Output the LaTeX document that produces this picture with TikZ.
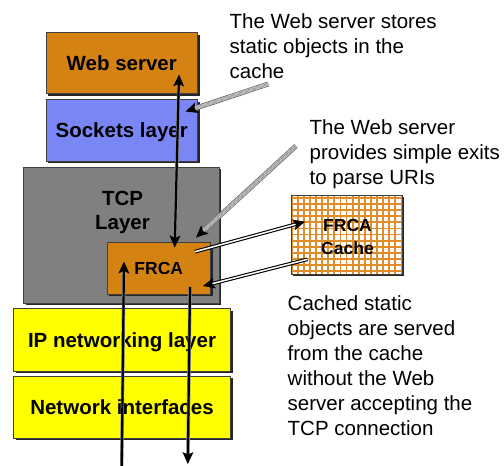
\documentclass[tikz,border=0pt]{standalone}
\usepackage{fontspec}
\setmainfont{Liberation Sans}
\usetikzlibrary{arrows.meta,shadows,calc}
\definecolor{wsorange}{RGB}{212,131,18}
\definecolor{sockblue}{RGB}{122,134,246}
\definecolor{tcpgray}{RGB}{128,128,128}
\definecolor{ipyellow}{RGB}{255,255,0}
\definecolor{gridorange}{RGB}{224,140,40}
% filled arrow head: #1 = tail side point, #2 = tip point
\newcommand\mytiphead[2]{\fill[black] (#2) -- ($(#2)!12pt!(#1)!5.5pt!90:(#2)$) -- ($(#2)!9.5pt!(#1)$) -- ($(#2)!12pt!(#1)!5.5pt!-90:(#2)$) -- cycle;}
\begin{document}
\begin{tikzpicture}[x=1pt,y=-1pt,
  layer/.style={draw=black!75, line width=0.9pt, inner sep=0pt, text depth=0pt,
    font=\bfseries\fontsize{20.5}{24}\selectfont,
    drop shadow={shadow xshift=2pt,shadow yshift=-2pt,fill=black!85,opacity=1}},
  note/.style={anchor=north west, inner sep=0pt, align=left, font=\fontsize{20.5}{25}\selectfont},
  flow/.style={draw=black!45, line width=3.4pt, postaction={draw=black, line width=2.2pt}},
  dbl/.style={draw=black, line width=1.1pt, double=white, double distance=1.5pt},
  hatch/.style={draw=black!55, line width=5pt,
    postaction={draw=white, line width=3.2pt},
    postaction={draw=black!45, line width=3.2pt, dash pattern=on 0.6pt off 0.6pt}}
]
\useasboundingbox (0,0) rectangle (504,466);

% layers
\node[layer, fill=wsorange, minimum width=151.5pt, minimum height=61pt] (ws) at (121.75,63) {Web server};
\node[layer, fill=sockblue, minimum width=151.5pt, minimum height=61.5pt] (sock) at (121.75,130.25) {Sockets layer};
\node[layer, fill=tcpgray, minimum width=195.5pt, minimum height=136pt] (tcp) at (121.25,235) {};
\node[anchor=north, inner sep=0pt, align=center, font=\bfseries\fontsize{20.5}{24}\selectfont] (tcpl) at (122.5,191.3) {TCP\\Layer};
\node[layer, fill=wsorange, minimum width=103.5pt, minimum height=51.5pt, font=\bfseries\fontsize{17.5}{23}\selectfont] (frca) at (158.75,268.25) {FRCA};
\node[layer, fill=ipyellow, minimum width=217pt, minimum height=62.5pt] (ip) at (122,339.75) {IP networking layer};
\node[layer, fill=ipyellow, minimum width=217pt, minimum height=62pt] (ni) at (122,407) {Network interfaces};

% cache
\node[layer, fill=white, minimum width=111pt, minimum height=79pt,
  path picture={\draw[gridorange, line width=1.8pt] (path picture bounding box.south west) grid[step=6.1pt] (path picture bounding box.north east);}] (cache) at (346.5,234.5) {};
\node[inner sep=0pt, align=center, font=\bfseries\fontsize{17.5}{23.3}\selectfont] (cachel) at (347.5,237.1) {FRCA\\Cache};

% notes
\node[note] (n1) at (229.5,13.6) {The Web server stores\\static objects in the\\cache};
\node[note] (n2) at (309.5,119.6) {The Web server\\provides simple exits\\to parse URIs};
\node[note] (n3) at (287.5,295.3) {Cached static\\objects are served\\from the cache\\without the Web\\server accepting the\\TCP connection};

% coordinates
\coordinate (wsIn) at (179,74.5);
\coordinate (frTop) at (174.7,247.5);
\coordinate (inBot) at (121.7,466);
\coordinate (frIn) at (124,261.5);
\coordinate (frOut) at (190,287);
\coordinate (outBot) at (187.8,464);
\coordinate (frToC) at (195,251.7);
\coordinate (cIn) at (305,221.7);
\coordinate (cOut) at (307.5,259.3);
\coordinate (frBack) at (203,286);
\coordinate (t1) at (268.3,84);
\coordinate (h1) at (185.5,111.5);
\coordinate (t2) at (296,146);
\coordinate (h2) at (196,237.5);

% vertical flows
\draw[flow, shorten <=8pt, shorten >=8pt] (wsIn) -- (frTop);
\mytiphead{frTop}{wsIn}
\mytiphead{wsIn}{frTop}
\draw[flow, shorten >=8pt] (inBot) -- (frIn);
\mytiphead{inBot}{frIn}
\draw[flow, shorten >=8pt] (frOut) -- (outBot);
\mytiphead{frOut}{outBot}

% cache flows
\draw[dbl, shorten >=9pt] (frToC) -- (cIn);
\mytiphead{frToC}{cIn}
\draw[dbl, shorten >=9pt] (cOut) -- (frBack);
\mytiphead{cOut}{frBack}

% callouts
\draw[hatch, shorten >=10pt] (t1) -- (h1);
\mytiphead{t1}{h1}
\draw[hatch, shorten >=10pt] (t2) -- (h2);
\mytiphead{t2}{h2}
\end{tikzpicture}
\end{document}
